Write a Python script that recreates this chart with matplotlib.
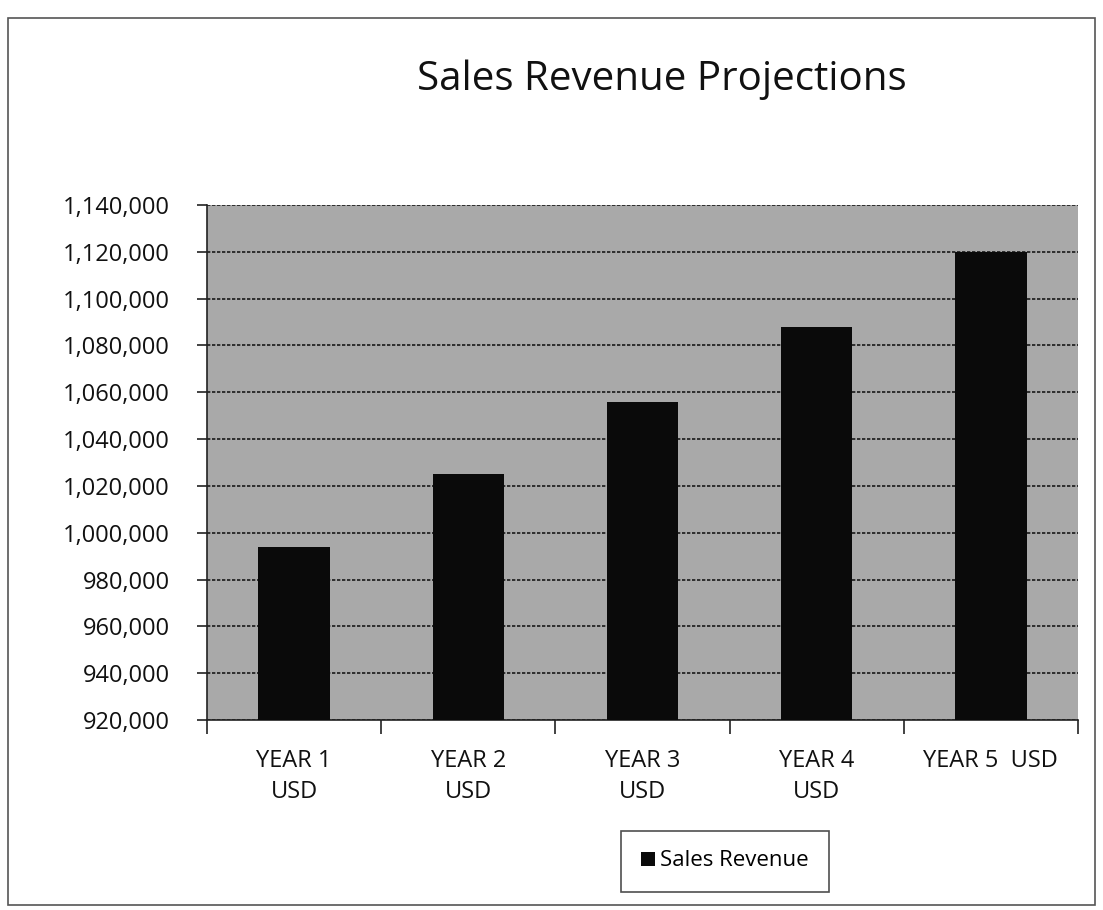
import matplotlib
matplotlib.use("Agg")
import matplotlib.pyplot as plt
from matplotlib.ticker import FuncFormatter, MultipleLocator, FixedLocator
from matplotlib.patches import Rectangle

categories = ["YEAR 1\nUSD", "YEAR 2\nUSD", "YEAR 3\nUSD", "YEAR 4\nUSD", "YEAR 5  USD"]
sales_revenue = [994000, 1025000, 1056000, 1088000, 1120000]
series_name = "Sales Revenue"
title = "Sales Revenue Projections"

plt.rcParams['font.family'] = ['Open Sans', 'DejaVu Sans']

fig = plt.figure(figsize=(11.03, 9.10), dpi=100)
fig.patch.set_facecolor("white")

# outer chart border
fig.add_artist(Rectangle((8/1103, 1 - 905/910), (1095-8)/1103, (905-18)/910,
                         transform=fig.transFigure, fill=False,
                         edgecolor="#555555", linewidth=1.2))

ax = fig.add_axes([207/1103, 1 - 720/910, (1078-207)/1103, (720-205)/910])
ax.set_facecolor("#a9a9a9")

x = list(range(len(categories)))
ax.bar(x, sales_revenue, width=0.41, color="#0a0a0a", label=series_name, zorder=3)

ax.set_ylim(920000, 1140000)
ax.set_xlim(-0.5, len(categories) - 0.5)
ax.yaxis.set_major_locator(MultipleLocator(20000))
ax.yaxis.set_major_formatter(FuncFormatter(lambda v, p: f"{int(v):,}"))
ax.grid(axis="y", color="#1a1a1a", linestyle=(0, (2, 1)), linewidth=1.2, zorder=1)

ax.set_xticks(x)
ax.set_xticklabels(categories, fontsize=17, linespacing=1.4, color="#111111")
ax.xaxis.set_minor_locator(FixedLocator([i - 0.5 for i in range(len(categories) + 1)]))
ax.tick_params(axis="x", which="major", length=0, pad=21)
ax.tick_params(axis="x", which="minor", length=10, width=1.2, color="#222222")
ax.tick_params(axis="y", labelsize=17, labelcolor="#111111", length=7, width=1.2,
               color="#222222", pad=20)

for side in ["top", "right"]:
    ax.spines[side].set_visible(False)
ax.spines["left"].set_color("#222222")
ax.spines["bottom"].set_color("#222222")
ax.spines["left"].set_linewidth(1.2)
ax.spines["bottom"].set_linewidth(1.2)

fig.text(662/1103, 1 - 80/910, title, fontsize=29, ha="center", va="center", color="#111111")

leg = fig.legend(loc="center", bbox_to_anchor=(725/1103, 1 - 861/910), fontsize=16,
                 frameon=True, fancybox=False, edgecolor="#222222",
                 handlelength=0.6, handleheight=0.6, handletextpad=0.25,
                 borderpad=0.9, borderaxespad=0)
leg.get_frame().set_linewidth(1.2)

fig.savefig("out.png", dpi=100)
